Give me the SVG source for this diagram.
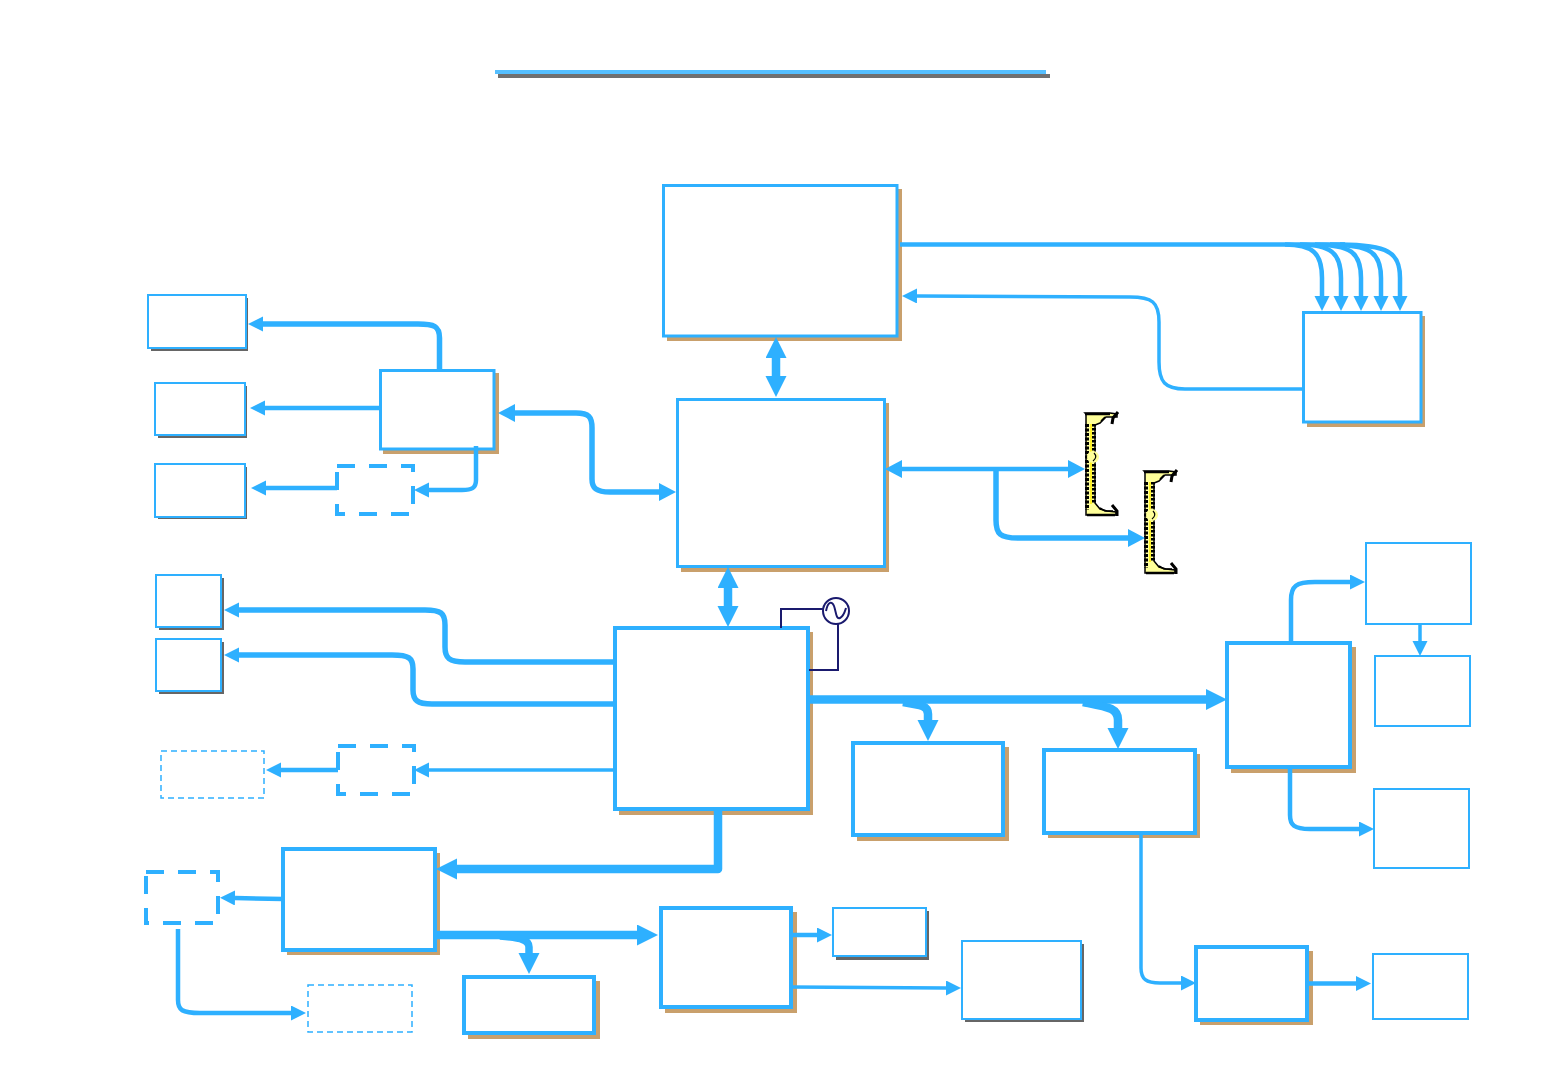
<svg xmlns="http://www.w3.org/2000/svg" width="1560" height="1080" viewBox="0 0 1560 1080">
<style>
.b{fill:#fff;stroke:#2eb0ff}
.s2{stroke-width:2}.s3{stroke-width:3}.s4{stroke-width:4}
.t{fill:#c9a06c}.g{fill:#666}
.d{fill:#fff;stroke:#2eb0ff;stroke-width:4;stroke-dasharray:18 14}
.dt{fill:#fff;stroke:#2eb0ff;stroke-width:1.500;stroke-dasharray:6 4}
.c{fill:none;stroke:#2eb0ff;stroke-linejoin:round}
.w3{stroke-width:3.500}.w4{stroke-width:4.500}.w5{stroke-width:5.500}.w7{stroke-width:7.500}.w8{stroke-width:8.500}
.e1{marker-end:url(#a1)}.e2{marker-end:url(#a2)}.e3{marker-end:url(#a3)}
.n{fill:none;stroke:#1a1a6e;stroke-width:2}
</style>
<defs>
<marker id="a1" markerUnits="userSpaceOnUse" markerWidth="17" markerHeight="17" refX="0" refY="7.500" orient="auto-start-reverse"><path d="M0,0L15,7.500L0,15Z" fill="#2eb0ff"/></marker>
<marker id="a2" markerUnits="userSpaceOnUse" markerWidth="20" markerHeight="20" refX="0" refY="9" orient="auto-start-reverse"><path d="M0,0L17,9L0,18Z" fill="#2eb0ff"/></marker>
<marker id="a3" markerUnits="userSpaceOnUse" markerWidth="24" markerHeight="24" refX="0" refY="10.500" orient="auto-start-reverse"><path d="M0,0L21,10.500L0,21Z" fill="#2eb0ff"/></marker>
<g id="slot">
<path d="M1085,413H1110L1117,414V417H1106L1100,423L1095,425V503L1100,509L1107,511L1116,512V515H1086V414Z" fill="#ffff99" stroke="#000" stroke-width="1.500"/>
<path d="M1087,424V510" fill="none" stroke="#000" stroke-width="4" stroke-dasharray="3 1.500"/>
<path d="M1094,424V504" fill="none" stroke="#000" stroke-width="4" stroke-dasharray="2.500 1.500"/>
<path d="M1091,424V504" fill="none" stroke="#ffee00" stroke-width="1.500"/>
<circle cx="1093" cy="457" r="6" fill="#ffff99"/>
<path d="M1094,453Q1098,457 1093,461" fill="none" stroke="#000" stroke-width="1.200"/>
<path d="M1118,412L1113,418L1112,424" fill="none" stroke="#000" stroke-width="3"/>
<path d="M1112,505L1117,511L1117,516" fill="none" stroke="#000" stroke-width="3"/>
<path d="M1085,414H1110M1087,515H1115" fill="none" stroke="#000" stroke-width="2.500"/>
<path d="M1105,417L1101,421M1100,508L1105,511H1113" fill="none" stroke="#000" stroke-width="1.500"/>
</g>
</defs>
<rect width="1560" height="1080" fill="#fff"/>
<g id="title"><rect x="498" y="74" width="552" height="4" fill="#707070"/><rect x="495" y="70" width="551" height="4" fill="#55bfff"/></g>
<g id="top"><rect class="t" x="667" y="189" width="235" height="152"/><rect class="b s3" x="663.500" y="185.500" width="233.500" height="150.500"/></g>
<g id="north"><rect class="t" x="681" y="403" width="208" height="169"/><rect class="b s3" x="677.500" y="399.500" width="207" height="167"/></g>
<g id="south"><rect class="t" x="619" y="632" width="194" height="183"/><rect class="b s4" x="615" y="628" width="193" height="181"/></g>
<g id="clk"><circle class="n" cx="836" cy="611" r="13" fill="#fff"/><path class="n" d="M826,611C828,601 832,601 834,606C836,611 836,620 840,618C844,616 845,611 846,608"/></g>
<g id="agp"><rect class="t" x="383" y="373" width="116" height="81"/><rect class="b s3" x="380.500" y="370.500" width="113.500" height="78.500"/></g>
<g id="n1"><rect class="g" x="151" y="298" width="97" height="53"/><rect class="b s2" x="148" y="295" width="98" height="53"/></g>
<g id="n2"><rect class="g" x="158" y="386" width="89" height="52"/><rect class="b s2" x="155" y="383" width="90" height="52"/></g>
<g id="n3"><rect class="g" x="158" y="467" width="89" height="52"/><rect class="b s2" x="155" y="464" width="90" height="53"/></g>
<g id="n4"><rect class="g" x="159" y="578" width="65" height="52"/><rect class="b s2" x="156" y="575" width="65" height="52"/></g>
<g id="n5"><rect class="g" x="159" y="642" width="65" height="52"/><rect class="b s2" x="156" y="639" width="65" height="52"/></g>
<g id="d1"><rect class="d" x="337" y="466" width="76" height="48"/></g>
<g id="d2"><rect class="d" x="338" y="746" width="76" height="48"/></g>
<g id="d3"><rect class="d" x="146" y="872" width="72" height="51"/></g>
<g id="d4"><rect class="dt" x="161" y="751" width="103" height="47"/></g>
<g id="d5"><rect class="dt" x="308" y="985" width="104" height="47"/></g>
<g id="n6"><rect class="t" x="287" y="853" width="153" height="102"/><rect class="b s4" x="283" y="849" width="152" height="101"/></g>
<g id="n7"><rect class="t" x="468" y="981" width="132" height="58"/><rect class="b s4" x="464" y="977" width="130" height="56"/></g>
<g id="n8"><rect class="t" x="665" y="912" width="132" height="101"/><rect class="b s4" x="661" y="908" width="130" height="99"/></g>
<g id="n9"><rect class="g" x="836" y="911" width="93" height="49"/><rect class="b s2" x="833" y="908" width="93" height="48"/></g>
<g id="n10"><rect class="g" x="965" y="944" width="119" height="78"/><rect class="b s2" x="962" y="941" width="119" height="78"/></g>
<g id="n11"><rect class="t" x="857" y="747" width="152" height="94"/><rect class="b s4" x="853" y="743" width="150" height="92"/></g>
<g id="n12"><rect class="t" x="1048" y="754" width="152" height="84"/><rect class="b s4" x="1044" y="750" width="151" height="83"/></g>
<g id="n13"><rect class="t" x="1231" y="647" width="125" height="126"/><rect class="b s4" x="1227" y="643" width="123" height="124"/></g>
<g id="n14"><rect class="t" x="1200" y="951" width="113" height="74"/><rect class="b s4" x="1196" y="947" width="111" height="73"/></g>
<g id="n15"><rect class="b s2" x="1373" y="954" width="95" height="65"/></g>
<g id="n16"><rect class="b s2" x="1374" y="789" width="95" height="79"/></g>
<g id="n17"><rect class="b s2" x="1375" y="656" width="95" height="70"/></g>
<g id="n18"><rect class="b s2" x="1366" y="543" width="105" height="81"/></g>
<g id="n19"><rect class="t" x="1307" y="316" width="118" height="111"/><rect class="b s3" x="1303.500" y="312.500" width="117.500" height="109.500"/></g>
<g id="slot1"><use href="#slot"/></g>
<g id="slot2"><use href="#slot" x="59" y="58"/></g>
<g id="connectors">
<path class="c w4" d="M900,244.500H1345"/>
<path class="c w4 e1" d="M1285,244.500C1312,245 1322,252 1322,278V296"/>
<path class="c w4 e1" d="M1300,244.500C1330,245 1341,252 1341,278V296"/>
<path class="c w4 e1" d="M1315,244.500C1350,245 1361,252 1361,278V296"/>
<path class="c w4 e1" d="M1330,244.500C1370,245 1381,252 1381,278V296"/>
<path class="c w4 e1" d="M1340,244.500C1388,245 1400,252 1400,278V296"/>
<path class="c w3 e1" d="M1303,389H1185C1165,389 1159,382 1159,362V322C1159,302 1152,297 1130,297L917,296"/>
<path class="c w8 e3" style="marker-start:url(#a3)" d="M776,358V376"/>
<path class="c w5 e1" d="M439.500,370V338C439.500,326 434,324 418,324H263"/>
<path class="c w4 e1" d="M380,408H265"/>
<path class="c w4 e1" d="M337,488H266"/>
<path class="c w4 e1" d="M476,446V480C476,488 472,490 462,490H429"/>
<path class="c w5 e2" style="marker-start:url(#a2)" d="M515,413H576C589,413 592,417 592,428V479C592,488 596,492 610,492H659"/>
<path class="c w4 e2" style="marker-start:url(#a2)" d="M902,469H1068"/>
<path class="c w5 e2" d="M996,470V520C996,534 1000,538 1018,538H1128"/>
<path class="c w8 e3" style="marker-start:url(#a3)" d="M728,588V606"/>
<path class="c w5 e1" d="M614,662H465C449,662 445,658 445,647V625C445,613 441,610 425,610H239"/>
<path class="c w5 e1" d="M614,704H432C417,704 413,700 413,690V669C413,658 409,655 392,655H239"/>
<path class="c w3 e1" d="M614,770H429"/>
<path class="c w4 e1" d="M338,770H281"/>
<path class="c w8 e3" d="M718,807V869H457"/>
<path class="c w4 e1" d="M283,899L235,898"/>
<path class="c w4 e1" d="M178,929V1000C178,1010 182,1013 200,1013H291"/>
<path class="c w8 e3" d="M434,935H637"/>
<path class="c w7 e3" d="M500,936C522,938 529,940 529,947V953"/>
<path class="c w4 e1" d="M790,935H817"/>
<path class="c w3 e1" d="M791,987L946,988"/>
<path class="c w8 e3" d="M806,699.500H1206"/>
<path class="c w8 e3" d="M903,702C922,705 928,706 928,714V720"/>
<path class="c w8 e3" d="M1083,702C1108,707 1118,708 1118,720V728"/>
<path class="c w4 e1" d="M1291,643V600C1291,586 1296,582 1315,582H1350"/>
<path class="c w3 e1" d="M1420,624V641"/>
<path class="c w4 e1" d="M1290,767V815C1290,825 1294,829 1310,829H1359"/>
<path class="c w3 e1" d="M1141,833V968C1141,979 1146,983 1160,983H1181"/>
<path class="c w4 e1" d="M1307,983.500H1356"/>
</g>
<path id="clk-lines" class="n" d="M781,628V609H823M838,623V670H809"/>
</svg>
